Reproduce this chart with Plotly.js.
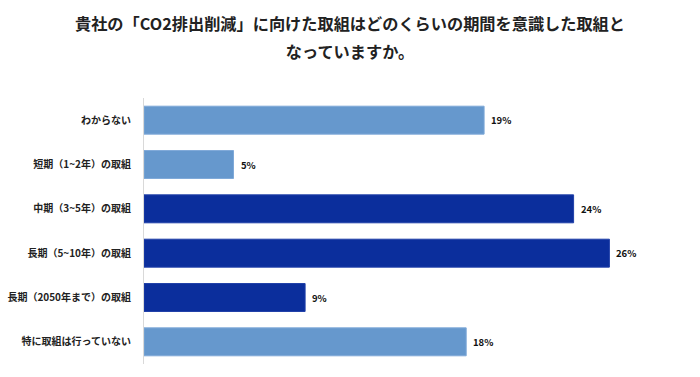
<!DOCTYPE html>
<html><head><meta charset="utf-8">
<script src="https://cdn.plot.ly/plotly-3.0.1.min.js"></script>
<style>html,body{margin:0;padding:0;background:#fff;}#chart{width:700px;height:377px;}</style>
</head><body><div id="chart"></div>
<script>
const categories = ["わからない","短期（1~2年）の取組","中期（3~5年）の取組","長期（5~10年）の取組","長期（2050年まで）の取組","特に取組は行っていない"];
const values = [19,5,24,26,9,18];
const barColors = ["#6698cd","#6698cd","#0b2e9c","#0b2e9c","#0b2e9c","#6698cd"];
const lineColors = ["#7fa9d8","#7fa9d8","#1f3fa8","#1f3fa8","#1f3fa8","#7fa9d8"];
const titleLines = ["貴社の「CO2排出削減」に向けた取組はどのくらいの期間を意識した取組と","なっていますか。"];

const font = "'Noto Sans CJK JP', 'Noto Sans', sans-serif";
const trace = {
  type: 'bar', orientation: 'h', x: values, y: categories,
  marker: {color: barColors, line: {color: lineColors, width: 1}},
  width: 0.63, hoverinfo: 'none'
};
const annotations = values.map((v,i)=>({
  x: v, y: categories[i], xref:'x', yref:'y', text: '<b>'+v+'%</b>',
  showarrow:false, xanchor:'left', xshift:5, font:{family:font,size:9.5,color:'#111'}
}));
const layout = {
  width:700, height:377,
  margin:{l:144,r:19,t:98,b:13},
  paper_bgcolor:'#fff', plot_bgcolor:'#fff',
  title:{text: titleLines.map(s=>'<b><span style="font-size:16.2px">'+s+'</span></b>').join('<br>'),
    font:{family:font,size:21.5,color:'#222'}, x:0.5, xanchor:'center', y:0.92, yanchor:'top', yref:'container'},
  xaxis:{range:[0,30], showgrid:false, zeroline:false, showticklabels:false, showline:false, fixedrange:true},
  yaxis:{autorange:'reversed', showline:true, linecolor:'#d9d9d9', linewidth:1, showgrid:false,
    tickfont:{family:font,size:10,color:'#222',weight:'bold'}, ticks:'', ticklabelstandoff:10, fixedrange:true},
  showlegend:false, annotations: annotations
};
Plotly.newPlot('chart',[trace],layout,{staticPlot:true});
</script></body></html>
